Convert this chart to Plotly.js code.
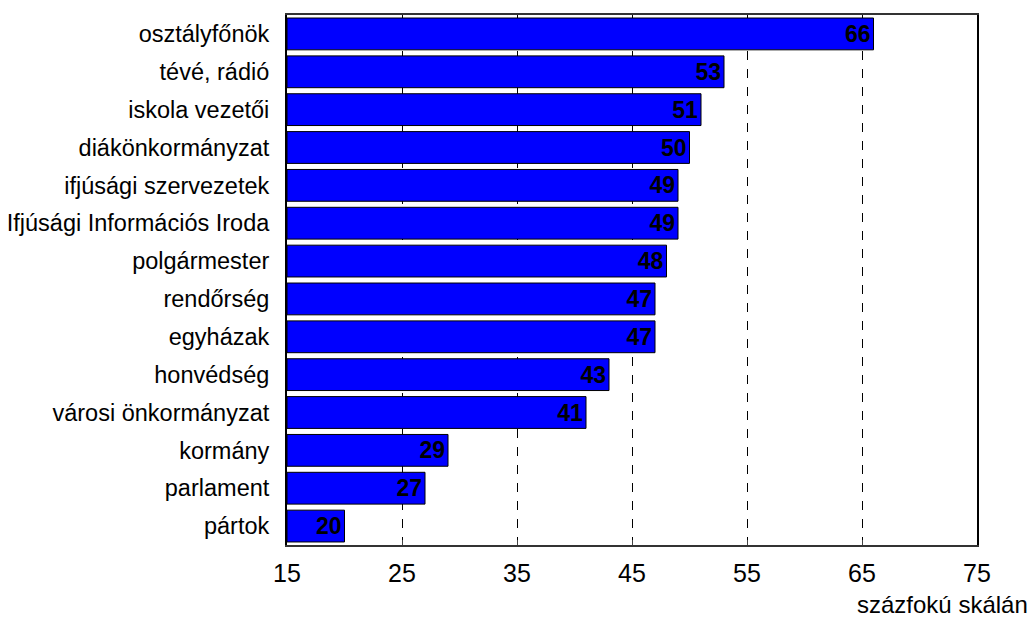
<!DOCTYPE html>
<html>
<head>
<meta charset="utf-8">
<script src="https://cdn.plot.ly/plotly-3.0.1.min.js"></script>
<style>html,body{margin:0;padding:0;background:#fff;}#chart{width:1033px;height:618px;}</style>
</head>
<body>
<div id="chart"></div>
<script>
var categories = ["osztályfőnök","tévé, rádió","iskola vezetői","diákönkormányzat","ifjúsági szervezetek","Ifjúsági Információs Iroda","polgármester","rendőrség","egyházak","honvédség","városi önkormányzat","kormány","parlament","pártok"];
var values = [66,53,51,50,49,49,48,47,47,43,41,29,27,20];
var tickValues = [15,25,35,45,55,65,75];
var xTitle = "százfokú skálán";

var trace = {
  type: 'bar',
  orientation: 'h',
  y: categories,
  x: values.map(function(v){return v - 15;}),
  base: 15,
  width: 0.84,
  marker: {color: '#0000FF', line: {color: '#000000', width: 1}},
  text: values.map(String),
  textposition: 'inside',
  insidetextanchor: 'end',
  textangle: 0,
  constraintext: 'none',
  textfont: {family: 'Liberation Sans, Arial, sans-serif', size: 23, color: '#000000', weight: 'bold'},
  hoverinfo: 'none'
};

var layout = {
  width: 1033, height: 618,
  margin: {l: 287, r: 56, t: 15, b: 73},
  paper_bgcolor: '#ffffff', plot_bgcolor: '#ffffff',
  showlegend: false,
  font: {family: 'Liberation Sans, Arial, sans-serif', color: '#000000'},
  xaxis: {
    range: [15, 75],
    tickvals: tickValues,
    ticktext: tickValues.map(String),
    ticks: 'inside', ticklen: 5, tickcolor: '#444',
    tickfont: {size: 25, color: '#000'},
    ticklabelstandoff: 5,
    showgrid: true, gridcolor: '#000000', gridwidth: 1, griddash: 'dash',
    showline: true, linecolor: '#333', linewidth: 2, mirror: true,
    zeroline: false, fixedrange: true
  },
  yaxis: {
    autorange: 'reversed',
    tickfont: {size: 23.5, color: '#000'},
    ticks: '', showgrid: false,
    showline: true, linecolor: '#000', linewidth: 2, mirror: true,
    ticklabelstandoff: 11,
    fixedrange: true
  },
  annotations: [{
    text: xTitle, xref: 'paper', yref: 'paper',
    x: 1.077, y: -0.113, xanchor: 'right', yanchor: 'middle',
    showarrow: false, font: {size: 24, color: '#000'}
  }]
};

Plotly.newPlot('chart', [trace], layout, {displayModeBar: false, staticPlot: true});
</script>
</body>
</html>
